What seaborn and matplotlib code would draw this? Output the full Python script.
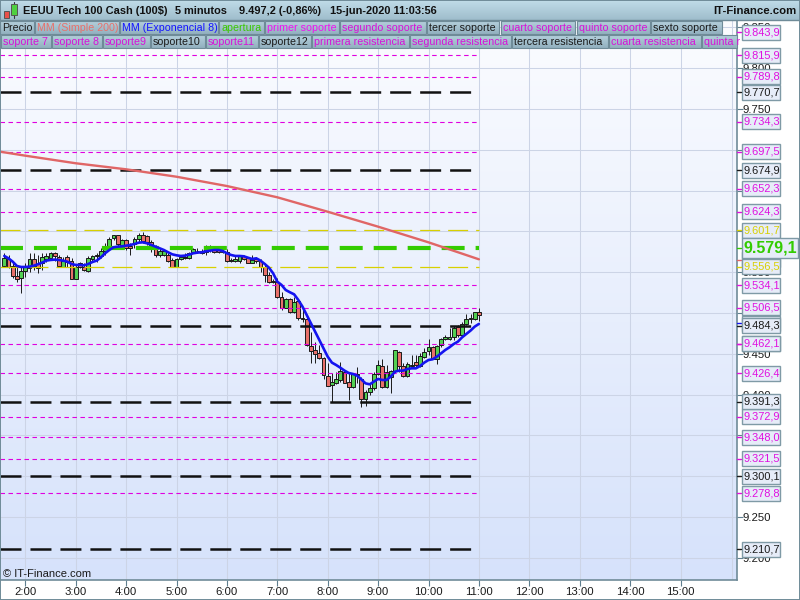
import numpy as np
import pandas as pd
import matplotlib
matplotlib.use('Agg')
import matplotlib.pyplot as plt
from matplotlib.patches import Rectangle
import seaborn as sns

# velas de 5 minutos, de la k=-5 (1:35) a la k=108 (11:00)
first_k = -5
open_ = [9558,9566.2,9558,9545.8,9543.3,9551.9,9555.6,9565.8,9559.7,9560.9,9565.8,9567,9573.2,9569,9556.8,9569,9564.2,9542.1,9560.9,9556,
         9551.9,9566.6,9569.9,9570.3,9576.4,9582.5,9591.5,9595.2,9583.8,9589,9582.5,9584.2,9590.3,9595.2,9594.4,9587.4,9580.5,9570.7,9570.7,9570.7,
         9565,9556.8,9565.8,9567.4,9567.8,9574.8,9575.6,9576.4,9575.2,9577.2,9580.5,9577.2,9575.2,9575.2,9563.3,9563.3,9563.3,9569.9,9567,
         9561.7,9565.8,9564.2,9556,9547,9539.7,9538.4,9519.2,9506.6,9516.8,9501.7,9515.2,9493.5,9492.3,9459.6,9454.3,9450.6,9444.5,9422.8,9412.2,
         9414.7,9417.5,9427.3,9415,9409,9424.5,9418.7,9394.2,9403.6,9407.7,9424.9,9434.7,9409,9421.2,9428.5,9452.6,9435.5,9422.8,9435.1,9439.6,
         9435.1,9446.5,9453.9,9458,9443.3,9460.4,9468.2,9468.2,9471,9482.5,9473.5,9487,9492.3,9492.3,9500.9]
high = [9573.2,9571.1,9562.9,9556.8,9556.8,9560.9,9573.2,9573.2,9571.1,9573.2,9573.2,9575.2,9575.2,9571.1,9569,9571.1,9567,9558.9,9562.9,9560.9,
        9569.9,9571.1,9573.2,9579.3,9585.4,9593.6,9596,9596,9590.3,9590.3,9585.4,9593.6,9597.7,9598.9,9595.6,9589.5,9583.4,9579.3,9578,9573.2,
        9567,9567,9571.1,9573.2,9575.2,9579.3,9579.3,9578,9583.4,9583.4,9582.1,9579.3,9578,9578,9567,9571.1,9571.1,9571.5,9569,
        9571.1,9569,9565.8,9560.9,9550.7,9541.3,9542.5,9526.2,9518,9518,9520.1,9516.8,9507.8,9495.5,9477.2,9464.9,9460.8,9446.5,9438.4,9426.1,
        9428.1,9440.4,9430.2,9426.1,9426.9,9434.3,9422,9405.7,9413.8,9428.1,9442.4,9443.3,9436.3,9430.2,9454.7,9453.5,9438.4,9440.4,9448.6,9448.6,
        9450.6,9456.7,9467.8,9459.6,9460.8,9469,9473.1,9481.2,9484.1,9485.3,9489.4,9498.8,9498.8,9501.7,9506.2]
low = [9556.8,9554.8,9542.5,9538.4,9524.1,9543.7,9550.7,9552.7,9548.6,9552.7,9562.9,9565,9564.2,9556.8,9556,9556.8,9541.3,9541.3,9554.8,9551.9,
       9550.7,9562.9,9562.9,9567,9571.1,9579.3,9589.5,9581.3,9581.3,9577.2,9571.1,9579.3,9587.4,9585.4,9583.4,9575.2,9569,9569,9569.9,9562.9,
       9556,9556,9565,9565.8,9565.8,9573.2,9573.2,9572.3,9571.1,9575.2,9573.2,9574,9574,9562.9,9562.5,9562.5,9561.7,9565,9560.9,
       9560.9,9561.7,9550.7,9538.4,9536.4,9536.4,9518,9503.7,9505.8,9500.4,9500.4,9491.5,9489.4,9459.6,9438.4,9438.4,9443.3,9418.7,9411,9390.6,
       9413,9415.9,9413.8,9393.4,9407.7,9413.8,9385.2,9386.5,9399.5,9405.7,9424.1,9407.7,9407.7,9401.6,9426.1,9428.1,9422,9421.2,9432.2,9432.2,
       9433.5,9444.5,9448.6,9443.3,9437.5,9458,9467,9467,9467,9471,9471,9485.3,9488.2,9491.5,9490.6]
close = [9567,9556.8,9545.8,9542.1,9551.9,9556.8,9565.8,9558,9555.6,9568.2,9569.9,9573.2,9569.9,9558,9564.2,9562.9,9542.1,9556.8,9556,9552.7,
         9567,9569.9,9571.1,9576.4,9582.5,9590.3,9595.2,9584.2,9589,9579.3,9579.3,9590.3,9595.2,9588.7,9587.4,9580.5,9570.7,9576.4,9576.4,9564.2,
         9556.8,9565.8,9568.2,9569,9573.2,9578,9576.4,9574,9581.3,9582.1,9574.8,9575.2,9576.4,9564.2,9565,9565.8,9569.9,9565.8,9561.7,
         9565,9563.4,9556,9547,9537.6,9537.6,9519.2,9506.6,9516.8,9500.9,9513.1,9493.5,9492.3,9460.4,9453.9,9449.8,9444.5,9424.1,9411,9415,
         9418.7,9428.5,9414.7,9409,9424.9,9425.3,9394.2,9403.6,9407.7,9424.9,9435.9,9409,9428.1,9428.5,9454.3,9435.1,9422.8,9437.1,9436.7,9436.3,
         9446.9,9451.8,9458,9444.1,9460,9467.8,9471,9471,9482.1,9472.7,9486.6,9492.3,9493.5,9500.9,9497.2]

# MM exponencial 8, un valor por vela
ema8 = [9569.9,9567,9562.9,9557.6,9556.4,9556.4,9556.8,9558,9559.7,9561.7,9564.2,9565,9565.4,9565,9564.2,9562.9,9560.1,9558.9,9558.9,9558.4,
        9560.1,9562.5,9564.2,9568.2,9573.2,9577.2,9580.5,9581.3,9581.7,9582.5,9583.4,9584.6,9586.2,9586.6,9585.4,9583.4,9581.3,9579.3,9577.2,9574.4,
        9571.9,9570.7,9569.9,9570.3,9571.5,9573.2,9574,9574.4,9575.6,9576.4,9577.2,9577.2,9576,9573.2,9571.1,9569.9,9569.9,9569.5,9567.8,
        9566.2,9567,9564.2,9560.1,9555.6,9548.7,9538.4,9534.4,9528.2,9525.4,9522.9,9516,9507.8,9497.6,9487.4,9477.2,9467,9456.7,9446.5,9439.2,
        9436.3,9433,9429.4,9426.5,9425.3,9423.2,9418.7,9413.8,9412.6,9415.9,9419.2,9417.9,9417.9,9422,9428.1,9429.4,9429.4,9431.4,9432.2,9432.2,
        9435.1,9439.2,9442.4,9443.3,9446.5,9450.6,9454.7,9458,9462,9464.9,9470.2,9474.3,9478.4,9483.3,9486.6]

sma_hours = [1.5,2,3,4,5,6,7,8,9,10,11]
sma200 = [9697.7,9692.8,9683.5,9676.1,9667,9655.6,9641.8,9624.1,9605.8,9586.6,9565.8]

# niveles
black_levels = [9770.7,9674.9,9484.3,9391.3,9300.1,9210.7]
magenta_levels = [9843.9,9815.9,9789.8,9734.3,9697.5,9652.3,9624.3,9534.1,9506.5,9462.1,9426.4,9372.9,9348.0,9321.5,9278.8]
yellow_levels = [9601.7,9556.5]
green_level = 9579.1

y_ticks = [9200,9250,9300,9350,9400,9450,9500,9550,9600,9650,9700,9750,9800,9850]
hours = list(range(2,16))

row1 = [('Precio','k',0,34),('MM (Simple 200)','#e8706a',35,119),('MM (Exponencial 8)','#1414ff',120,218),
        ('apertura','#3ac800',219,264),('primer soporte','#f010f0',265,339),('segundo soporte','#d810d8',340,426),
        ('tercer soporte','k',427,499),('cuarto soporte','#d810d8',501,575),('quinto soporte','#d810d8',577,650),('sexto soporte','k',651,722)]
row2 = [('soporte 7','#d810d8',1,51),('soporte 8','#d810d8',52,102),('soporte9','#d810d8',103,150),('soporte10','k',151,205),
        ('soporte11','#d810d8',206,258),('soporte12','k',259,311),('primera resistencia','#d810d8',312,409),
        ('segunda resistencia','#d810d8',410,511),('tercera resistencia','k',512,608),('cuarta resistencia','#d810d8',609,701),
        ('quinta r','#d810d8',702,737)]

sns.set_theme(style='white')
plt.rcParams['font.family'] = ['Liberation Sans','DejaVu Sans']

fig = plt.figure(figsize=(8,6),dpi=100)
fig.patch.set_facecolor('white')
ax = fig.add_axes([0,20/600,737/800,560/600])
x0,x1 = 2+(0-25.3)/50.4, 2+(737-25.3)/50.4
ymin,ymax = 9500-267/0.816, 9500+293/0.816

def hhmm(k):
    return 2+k*5/60

df = pd.DataFrame({'o':open_,'h':high,'l':low,'c':close,'ema':ema8})
df['t'] = [hhmm(first_k+i) for i in range(len(df))]

# fondo
grad = np.linspace(0,1,256).reshape(-1,1)
cmap = matplotlib.colors.LinearSegmentedColormap.from_list('fondo',['#fbfcff','#d6e2fb'])
ax.imshow(grad,extent=[x0,x1,ymin,ymax],aspect='auto',cmap=cmap,origin='upper',zorder=0)
ax.set_xlim(x0,x1)
ax.set_ylim(ymin,ymax)

ax.set_yticks(y_ticks)
ax.set_yticklabels([f'{v//1000}.{v%1000:03d}' for v in y_ticks],fontsize=8.2,color='k')
ax.yaxis.tick_right()
ax.set_xticks(hours)
ax.set_xticklabels([f'{h}:00' for h in hours],fontsize=8.2,color='k')
ax.tick_params(axis='both',length=4,width=0.8,color='#5f7f8f',pad=1,bottom=True,right=True)
ax.tick_params(axis='y',pad=0,length=4)
ax.grid(True,color='#ccd4e6',lw=0.75,zorder=1)
ax.set_axisbelow(True)
for s in ['left','top']:
    ax.spines[s].set_visible(False)
for s in ['right','bottom']:
    ax.spines[s].set_color('#6f8b98')
    ax.spines[s].set_linewidth(1.2)
ax.axvline(2+(732-25.3)/50.4,color='#ccd4e6',lw=0.75,zorder=1)

# velas
up = df['c']>=df['o']
ax.vlines(df['t'],df['l'],df['h'],color='k',lw=0.7,zorder=3)
ax.bar(df['t'][up],(df['c']-df['o'])[up],bottom=df['o'][up],width=0.074,color='#52d052',edgecolor='k',linewidth=0.7,zorder=4)
ax.bar(df['t'][~up],(df['o']-df['c'])[~up],bottom=df['c'][~up],width=0.074,color='#e8706a',edgecolor='k',linewidth=0.7,zorder=4)

# niveles horizontales
t_end = 11
def nivel(v,color,lw,on,off,z=5):
    ax.plot([x0,t_end],[v,v],color=color,lw=lw,zorder=z,solid_capstyle='butt',dash_capstyle='butt',
            linestyle=(0,(on/1.39/lw,off/1.39/lw)))

for v in magenta_levels:
    nivel(v,'#e000e0',0.8,4.5,3.5)
for v in yellow_levels:
    nivel(v,'#d8d000',0.9,20,8)
for v in black_levels:
    nivel(v,'#111111',1.8,21,9)
nivel(green_level,'#33cc00',3,23,11,z=5.5)

# medias
sns.lineplot(x=sma_hours,y=sma200,ax=ax,color='#e06666',lw=1.7,zorder=6,legend=False)
sns.lineplot(data=df,x='t',y='ema',ax=ax,color='#1414f0',lw=1.9,zorder=7,legend=False,estimator=None)
ax.set_xlabel('')
ax.set_ylabel('')

ax.text(3/737,(580-574)/560,'© IT-Finance.com',transform=ax.transAxes,fontsize=8,va='center',ha='left',color='k',zorder=8)

# etiquetas de la derecha
def etiqueta(v,color,x_end=780,h=15,size=7.9,weight='normal',z=10):
    hp = h/0.816
    ax.add_patch(Rectangle((741.5/737,v-hp/2),(x_end-741.5)/737,hp,transform=ax.get_yaxis_transform(),clip_on=False,
                           facecolor='#e6ecf8',edgecolor='#7f9aa6',lw=1,zorder=z))
    s = f'{v:,.1f}'.replace(',','#').replace('.',',').replace('#','.')
    ax.text(743/737,v,s,transform=ax.get_yaxis_transform(),color=color,fontsize=size,fontweight=weight,va='center',ha='left',clip_on=False,zorder=z+0.5)
    ax.plot([737/737,741/737],[v,v],transform=ax.get_yaxis_transform(),color=color,lw=1,clip_on=False,zorder=z)

etiqueta(9565.5,'#e06666',z=9)
etiqueta(9487.4,'#1414f0',z=9)
for v in magenta_levels:
    etiqueta(v,'#e010e0',z=10)
for v in black_levels:
    etiqueta(v,'k',z=11)
for v in yellow_levels:
    etiqueta(v,'#d8d000',z=11)
etiqueta(9462.1,'#e010e0',z=12)
etiqueta(green_level,'#33cc00',x_end=798,h=20,size=11.5,weight='bold',z=13)

# capa en pixeles: cabecera y leyenda
top = fig.add_axes([0,0,1,1],zorder=5)
top.patch.set_visible(False)
top.axis('off')
cab = matplotlib.colors.LinearSegmentedColormap.from_list('cab',['#c0dce8','#9fbdcc'])
top.imshow(np.linspace(0,1,32).reshape(-1,1),extent=[0,800,20,0],aspect='auto',cmap=cab,zorder=1)
chip = matplotlib.colors.LinearSegmentedColormap.from_list('chip',['#b4cfdb','#93b1c0'])
for fila,(ya,yb) in [(row1,(21,34)),(row2,(35,48))]:
    for txt,col,xa,xb in fila:
        top.imshow(np.linspace(0,1,16).reshape(-1,1),extent=[xa,xb,yb,ya],aspect='auto',cmap=chip,zorder=2)
        top.add_patch(Rectangle((xa,ya),xb-xa,yb-ya,fill=False,edgecolor='#6f8b98',lw=0.8,zorder=3))
        top.text(xa+2,(ya+yb)/2+0.3,txt,color=col,fontsize=7.7,va='center',ha='left',zorder=4)
top.set_xlim(0,800)
top.set_ylim(600,0)
top.add_patch(Rectangle((0,0),799.5,599.5,fill=False,edgecolor='#6f8b98',lw=1.4,zorder=6))
top.plot([0,800],[20,20],color='#6f8b98',lw=1,zorder=5)
# icono
top.add_patch(Rectangle((4,11),5,7,facecolor='#e8504a',edgecolor='#555555',lw=0.7,zorder=5))
top.plot([14,14],[2,18],color='#333333',lw=0.8,zorder=4)
top.add_patch(Rectangle((11,4),6,11,facecolor='#4fd040',edgecolor='#555555',lw=0.7,zorder=5))
for x,s in [(23,'EEUU Tech 100 Cash (100$)'),(175,'5 minutos'),(239,'9.497,2 (-0,86%)'),(330,'15-jun-2020 11:03:56')]:
    top.text(x,10.5,s,fontsize=7.9,fontweight='bold',color='#111111',va='center',ha='left',zorder=5)
top.text(797,10.5,'IT-Finance.com',fontsize=8.2,fontweight='bold',color='#111111',va='center',ha='right',zorder=5)

fig.savefig('out.png',dpi=100)
